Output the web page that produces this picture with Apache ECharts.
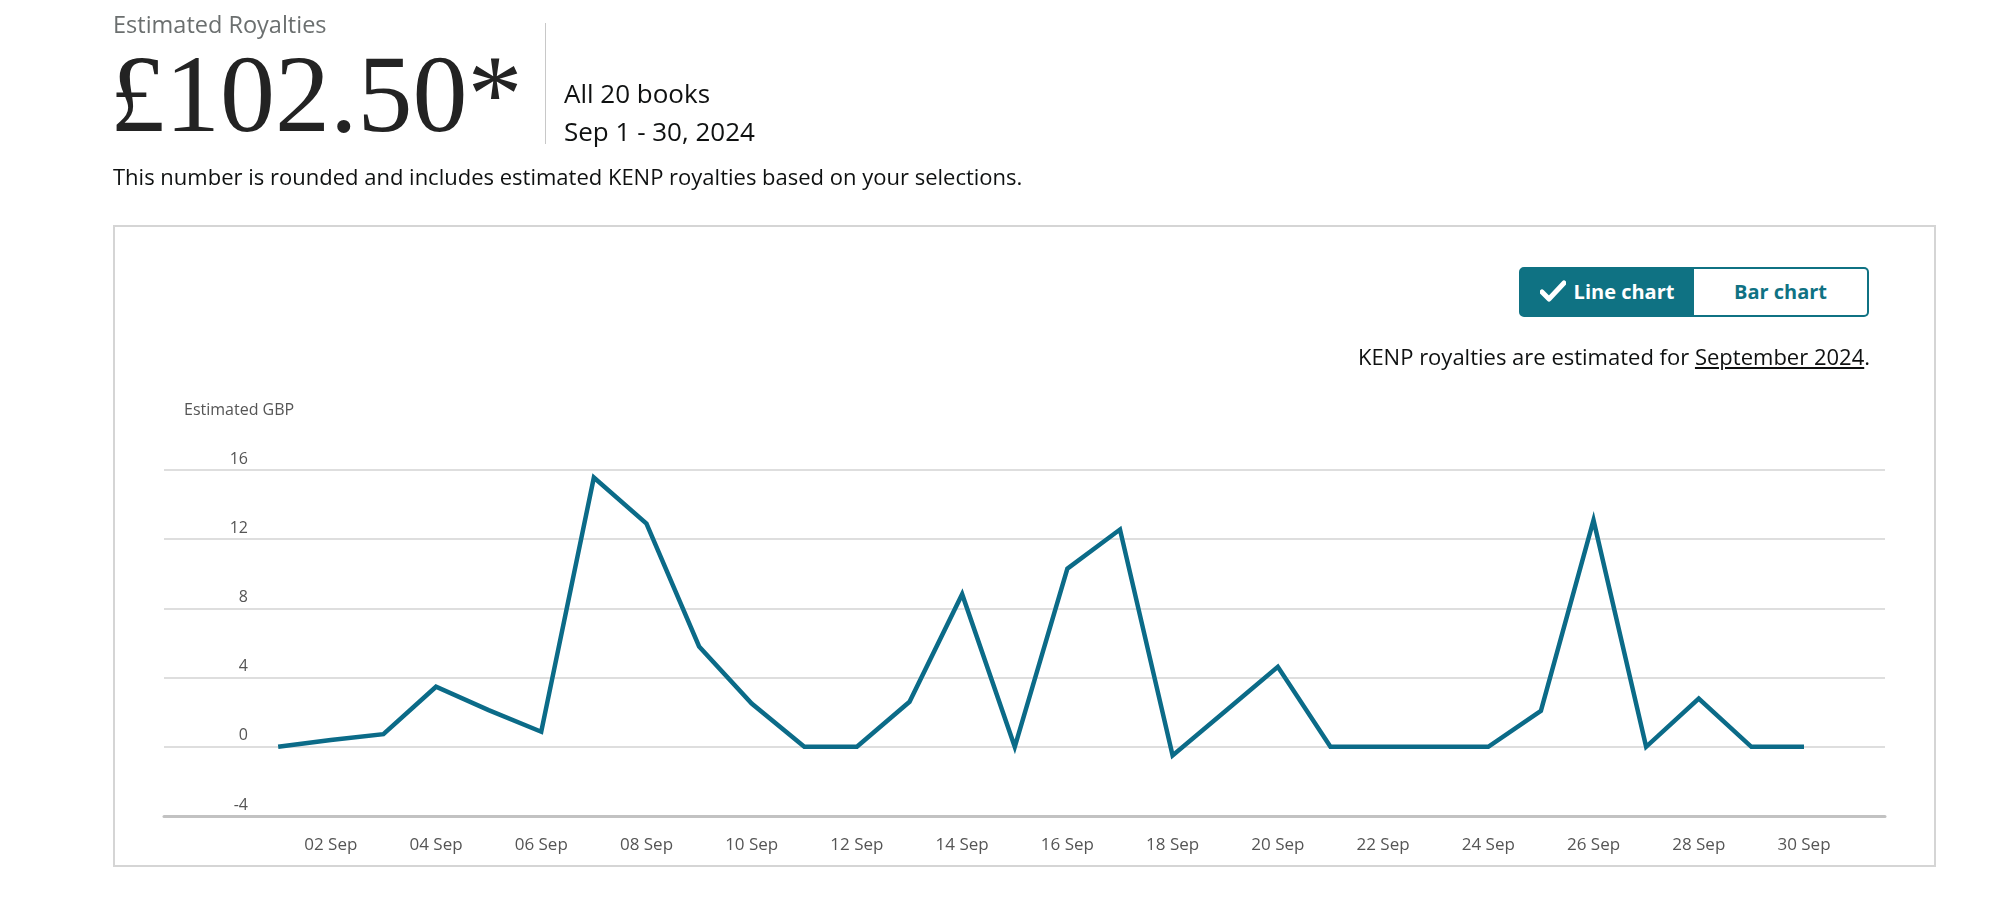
<!DOCTYPE html>
<html>
<head>
<meta charset="utf-8">
<script src="https://cdn.jsdelivr.net/npm/echarts@6/dist/echarts.min.js"></script>
<style>
  html, body { margin: 0; padding: 0; background: #fff; width: 2000px; height: 910px; overflow: hidden; }
  body { font-family: "Open Sans", "Noto Sans", sans-serif; color: #0f1111; position: relative; }
  .abs { position: absolute; white-space: nowrap; }
  #chart { position: absolute; left: 0; top: 0; width: 2000px; height: 910px; }
  #box { position: absolute; left: 113px; top: 225px; width: 1823px; height: 642px; box-sizing: border-box; border: 2px solid #d5d5d5; }
  .btn { position: absolute; top: 267px; height: 50px; box-sizing: border-box; font-weight: 700; font-size: 20px; line-height: 46px; text-align: center; }
  #btnLine { left: 1519px; width: 176px; background: #0f7283; color: #fff; border: 2px solid #0f7283; border-radius: 5px 0 0 5px; }
  #btnBar { left: 1694px; width: 175px; background: #fff; color: #0f7283; border: 2px solid #0f7283; border-left: none; border-radius: 0 5px 5px 0; }
</style>
</head>
<body>
<div id="box"></div>
<div id="chart"></div>
<div class="abs" id="hLabel" style="left:113px; top:11px; font-size:23.5px; line-height:26px; color:#6b6f6f;">Estimated Royalties</div>
<div class="abs" id="hNum" style="left:110px; top:39px; font-family:'Liberation Serif','DejaVu Serif',serif; font-size:110px; line-height:110px; color:#232323;">£102.50*</div>
<div class="abs" style="left:545px; top:23px; width:1px; height:121px; background:#c8c8c8;"></div>
<div class="abs" id="hBooks" style="left:564px; top:78px; font-size:26px; line-height:30px;">All 20 books</div>
<div class="abs" id="hDates" style="left:564px; top:116px; font-size:26px; line-height:30px;">Sep 1 - 30, 2024</div>
<div class="abs" id="hNote" style="left:113px; top:163px; font-size:22px; line-height:26px;">This number is rounded and includes estimated KENP royalties based on your selections.</div>
<div class="btn" id="btnLine"><svg width="26" height="22" viewBox="0 0 26 22" style="vertical-align:-3px; margin-right:8px;"><path d="M2 12 L9 19 L24 3" fill="none" stroke="#fff" stroke-width="5" stroke-linecap="round" stroke-linejoin="round"/></svg>Line chart</div>
<div class="btn" id="btnBar">Bar chart</div>
<div class="abs" id="kenp" style="right:130px; top:343px; font-size:22px; line-height:26px;">KENP royalties are estimated for <span style="text-decoration:underline;">September 2024</span>.</div>
<script>
// Data
const days = [1,2,3,4,5,6,7,8,9,10,11,12,13,14,15,16,17,18,19,20,21,22,23,24,25,26,27,28,29,30];
const royalties = [0, 0.39, 0.73, 3.47, 2.12, 0.87, 15.57, 12.9, 5.8, 2.5, 0, 0, 2.6, 8.82, 0, 10.3, 12.56, -0.5, 2.05, 4.62, 0, 0, 0, 0, 2.08, 13.1, 0, 2.79, 0, 0];
const xTickDays = [2,4,6,8,10,12,14,16,18,20,22,24,26,28,30];
const monthLabel = 'Sep';
const yTicks = [-4, 0, 4, 8, 12, 16];
const yAxisTitle = 'Estimated GBP';

const chart = echarts.init(document.getElementById('chart'), null, { renderer: 'canvas' });
const lineData = days.map((d, i) => [d, royalties[i]]);

chart.setOption({
  animation: false,
  textStyle: { fontFamily: 'Open Sans, Noto Sans, sans-serif' },
  grid: { left: 164, right: 115, top: 470, bottom: 94, containLabel: false },
  graphic: [{
    type: 'text',
    left: 184,
    top: 402,
    style: { text: yAxisTitle, fill: '#555', fontSize: 16, fontFamily: 'Open Sans, Noto Sans, sans-serif' }
  }],
  xAxis: {
    type: 'value',
    min: -1.17,
    max: 31.54,
    axisLine: { onZero: false, lineStyle: { color: '#c2c2c2', width: 3 } },
    axisTick: { show: false },
    splitLine: { show: false },
    axisLabel: {
      customValues: xTickDays,
      color: '#555',
      fontSize: 17,
      margin: 21,
      formatter: v => String(v).padStart(2, '0') + ' ' + monthLabel
    }
  },
  yAxis: {
    type: 'value',
    min: yTicks[0],
    max: yTicks[yTicks.length - 1],
    interval: 4,
    axisLine: { show: false },
    axisTick: { show: false },
    splitLine: { lineStyle: { color: '#dedede', width: 2 } },
    axisLabel: {
      color: '#555',
      fontSize: 16,
      margin: -84,
      align: 'right',
      verticalAlign: 'bottom',
      padding: [0, 0, 3, 0]
    }
  },
  series: [{
    type: 'line',
    data: lineData,
    showSymbol: false,
    lineStyle: { color: '#0b6b88', width: 4.5, join: 'miter' },
    itemStyle: { color: '#0b6b88' }
  }]
});
</script>
</body>
</html>
